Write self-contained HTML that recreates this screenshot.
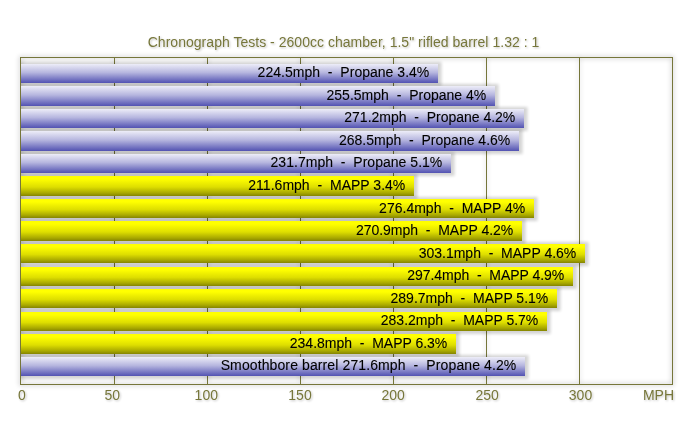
<!DOCTYPE html>
<html><head><meta charset="utf-8"><style>
html,body{margin:0;padding:0;background:#fff;}
body{width:700px;height:432px;overflow:hidden;position:relative;}
svg{position:absolute;left:0;top:0;}
text{font-family:"Liberation Sans",sans-serif;}
</style></head><body>
<svg width="700" height="432" viewBox="0 0 700 432">
<defs>
<linearGradient id="gb" x1="0" y1="0" x2="0" y2="1">
<stop offset="0" stop-color="#ededf8"/>
<stop offset="0.45" stop-color="#b6b6df"/>
<stop offset="1" stop-color="#5252b2"/>
</linearGradient>
<linearGradient id="gy" x1="0" y1="0" x2="0" y2="1">
<stop offset="0" stop-color="#ffff00"/>
<stop offset="0.15" stop-color="#ffff00"/>
<stop offset="0.55" stop-color="#dede00"/>
<stop offset="0.85" stop-color="#a8a800"/>
<stop offset="1" stop-color="#848400"/>
</linearGradient>
<filter id="sh" x="-10%" y="-100%" width="120%" height="300%">
<feGaussianBlur stdDeviation="1.5"/>
</filter>
<filter id="glow" x="-10%" y="-10%" width="120%" height="120%">
<feGaussianBlur stdDeviation="2.5"/>
</filter>
<filter id="tsh" x="-10%" y="-50%" width="120%" height="200%">
<feGaussianBlur in="SourceAlpha" stdDeviation="1"/>
<feOffset dx="1" dy="1"/>
<feComponentTransfer><feFuncA type="linear" slope="0.25"/></feComponentTransfer>
<feMerge><feMergeNode/><feMergeNode in="SourceGraphic"/></feMerge>
</filter>
<clipPath id="pc"><rect x="21" y="58" width="651" height="326"/></clipPath>
<filter id="id"><feOffset dx="0" dy="0"/></filter>
</defs>

<g filter="url(#glow)" opacity="0.25"><rect x="20.5" y="57.5" width="652" height="327" fill="none" stroke="#000" stroke-width="2"/>
<line x1="114.5" y1="57.5" x2="114.5" y2="384.5" stroke="#000" stroke-width="1"/>
<line x1="207.5" y1="57.5" x2="207.5" y2="384.5" stroke="#000" stroke-width="1"/>
<line x1="300.5" y1="57.5" x2="300.5" y2="384.5" stroke="#000" stroke-width="1"/>
<line x1="393.5" y1="57.5" x2="393.5" y2="384.5" stroke="#000" stroke-width="1"/>
<line x1="486.5" y1="57.5" x2="486.5" y2="384.5" stroke="#000" stroke-width="1"/>
<line x1="579.5" y1="57.5" x2="579.5" y2="384.5" stroke="#000" stroke-width="1"/>
</g>
<line x1="114.5" y1="57.5" x2="114.5" y2="384.5" stroke="#76763a" stroke-width="1"/>
<line x1="207.5" y1="57.5" x2="207.5" y2="384.5" stroke="#76763a" stroke-width="1"/>
<line x1="300.5" y1="57.5" x2="300.5" y2="384.5" stroke="#76763a" stroke-width="1"/>
<line x1="393.5" y1="57.5" x2="393.5" y2="384.5" stroke="#76763a" stroke-width="1"/>
<line x1="486.5" y1="57.5" x2="486.5" y2="384.5" stroke="#76763a" stroke-width="1"/>
<line x1="579.5" y1="57.5" x2="579.5" y2="384.5" stroke="#76763a" stroke-width="1"/>
<g clip-path="url(#pc)">
<rect x="10" y="62.0" width="431.5" height="24.0" fill="#000" opacity="0.17" filter="url(#sh)"/>
<rect x="10" y="84.0" width="488.5" height="25.0" fill="#000" opacity="0.17" filter="url(#sh)"/>
<rect x="10" y="107.0" width="517.5" height="24.0" fill="#000" opacity="0.17" filter="url(#sh)"/>
<rect x="10" y="129.0" width="512.5" height="25.0" fill="#000" opacity="0.17" filter="url(#sh)"/>
<rect x="10" y="152.0" width="444.5" height="24.0" fill="#000" opacity="0.17" filter="url(#sh)"/>
<rect x="10" y="174.0" width="407.5" height="25.0" fill="#000" opacity="0.17" filter="url(#sh)"/>
<rect x="10" y="197.0" width="527.5" height="24.0" fill="#000" opacity="0.17" filter="url(#sh)"/>
<rect x="10" y="219.0" width="515.5" height="25.0" fill="#000" opacity="0.17" filter="url(#sh)"/>
<rect x="10" y="242.0" width="578.5" height="24.0" fill="#000" opacity="0.17" filter="url(#sh)"/>
<rect x="10" y="265.0" width="566.5" height="24.0" fill="#000" opacity="0.17" filter="url(#sh)"/>
<rect x="10" y="287.0" width="550.5" height="24.0" fill="#000" opacity="0.17" filter="url(#sh)"/>
<rect x="10" y="310.0" width="540.5" height="24.0" fill="#000" opacity="0.17" filter="url(#sh)"/>
<rect x="10" y="332.0" width="449.5" height="25.0" fill="#000" opacity="0.17" filter="url(#sh)"/>
<rect x="10" y="355.0" width="518.5" height="24.0" fill="#000" opacity="0.17" filter="url(#sh)"/>
<rect x="15" y="64" width="423" height="19" fill="url(#gb)"/>
<rect x="15" y="86" width="480" height="20" fill="url(#gb)"/>
<rect x="15" y="109" width="509" height="19" fill="url(#gb)"/>
<rect x="15" y="131" width="504" height="20" fill="url(#gb)"/>
<rect x="15" y="154" width="436" height="19" fill="url(#gb)"/>
<rect x="15" y="176" width="399" height="20" fill="url(#gy)"/>
<rect x="15" y="199" width="519" height="19" fill="url(#gy)"/>
<rect x="15" y="221" width="507" height="20" fill="url(#gy)"/>
<rect x="15" y="244" width="570" height="19" fill="url(#gy)"/>
<rect x="15" y="267" width="558" height="19" fill="url(#gy)"/>
<rect x="15" y="289" width="542" height="19" fill="url(#gy)"/>
<rect x="15" y="312" width="532" height="19" fill="url(#gy)"/>
<rect x="15" y="334" width="441" height="20" fill="url(#gy)"/>
<rect x="15" y="357" width="510" height="19" fill="url(#gb)"/>
</g>
<rect x="20.5" y="57.5" width="652" height="327" fill="none" stroke="#76763a" stroke-width="1"/>
<g filter="url(#id)">
<text x="429.30" y="77.25" font-size="14" fill="#000" stroke="#000" stroke-width="0.1" text-anchor="end" textLength="171.70" lengthAdjust="spacing" xml:space="preserve">224.5mph  -  Propane 3.4%</text>
<text x="486.30" y="99.80" font-size="14" fill="#000" stroke="#000" stroke-width="0.1" text-anchor="end" textLength="159.80" lengthAdjust="spacing" xml:space="preserve">255.5mph  -  Propane 4%</text>
<text x="515.30" y="122.35" font-size="14" fill="#000" stroke="#000" stroke-width="0.1" text-anchor="end" textLength="171.00" lengthAdjust="spacing" xml:space="preserve">271.2mph  -  Propane 4.2%</text>
<text x="510.30" y="144.90" font-size="14" fill="#000" stroke="#000" stroke-width="0.1" text-anchor="end" textLength="171.40" lengthAdjust="spacing" xml:space="preserve">268.5mph  -  Propane 4.6%</text>
<text x="442.30" y="167.45" font-size="14" fill="#000" stroke="#000" stroke-width="0.1" text-anchor="end" textLength="171.75" lengthAdjust="spacing" xml:space="preserve">231.7mph  -  Propane 5.1%</text>
<text x="405.30" y="190.00" font-size="14" fill="#000" stroke="#000" stroke-width="0.1" text-anchor="end" textLength="157.00" lengthAdjust="spacing" xml:space="preserve">211.6mph  -  MAPP 3.4%</text>
<text x="525.30" y="212.55" font-size="14" fill="#000" stroke="#000" stroke-width="0.1" text-anchor="end" textLength="146.20" lengthAdjust="spacing" xml:space="preserve">276.4mph  -  MAPP 4%</text>
<text x="513.30" y="235.10" font-size="14" fill="#000" stroke="#000" stroke-width="0.1" text-anchor="end" textLength="157.40" lengthAdjust="spacing" xml:space="preserve">270.9mph  -  MAPP 4.2%</text>
<text x="576.30" y="257.65" font-size="14" fill="#000" stroke="#000" stroke-width="0.1" text-anchor="end" textLength="157.63" lengthAdjust="spacing" xml:space="preserve">303.1mph  -  MAPP 4.6%</text>
<text x="564.30" y="280.20" font-size="14" fill="#000" stroke="#000" stroke-width="0.1" text-anchor="end" textLength="157.10" lengthAdjust="spacing" xml:space="preserve">297.4mph  -  MAPP 4.9%</text>
<text x="548.30" y="302.75" font-size="14" fill="#000" stroke="#000" stroke-width="0.1" text-anchor="end" textLength="157.80" lengthAdjust="spacing" xml:space="preserve">289.7mph  -  MAPP 5.1%</text>
<text x="538.30" y="325.30" font-size="14" fill="#000" stroke="#000" stroke-width="0.1" text-anchor="end" textLength="157.50" lengthAdjust="spacing" xml:space="preserve">283.2mph  -  MAPP 5.7%</text>
<text x="447.30" y="347.85" font-size="14" fill="#000" stroke="#000" stroke-width="0.1" text-anchor="end" textLength="157.50" lengthAdjust="spacing" xml:space="preserve">234.8mph  -  MAPP 6.3%</text>
<text x="516.30" y="370.40" font-size="14" fill="#000" stroke="#000" stroke-width="0.1" text-anchor="end" textLength="295.63" lengthAdjust="spacing" xml:space="preserve">Smoothbore barrel 271.6mph  -  Propane 4.2%</text>
</g>
<g filter="url(#tsh)" fill="#76763a">
<text x="147.7" y="46.5" font-size="14" textLength="391.6" lengthAdjust="spacing">Chronograph Tests - 2600cc chamber, 1.5&quot; rifled barrel 1.32 : 1</text>
<text x="21.8" y="400" font-size="14" text-anchor="middle">0</text>
<text x="112.3" y="400" font-size="14" text-anchor="middle">50</text>
<text x="206.3" y="400" font-size="14" text-anchor="middle">100</text>
<text x="300.0" y="400" font-size="14" text-anchor="middle">150</text>
<text x="393.2" y="400" font-size="14" text-anchor="middle">200</text>
<text x="487.1" y="400" font-size="14" text-anchor="middle">250</text>
<text x="580.5" y="400" font-size="14" text-anchor="middle">300</text>
<text x="658.5" y="400" font-size="14" text-anchor="middle">MPH</text>
</g>
</svg></body></html>
